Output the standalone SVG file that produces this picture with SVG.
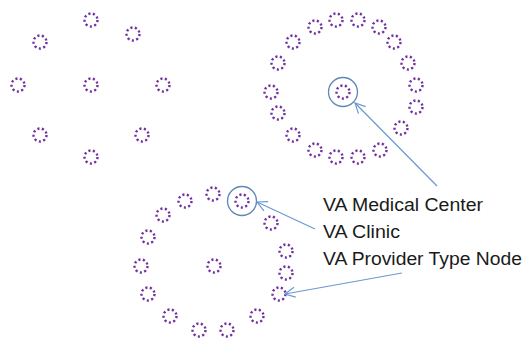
<svg xmlns="http://www.w3.org/2000/svg" xmlns:xlink="http://www.w3.org/1999/xlink" width="526" height="340" viewBox="0 0 526 340">
<style>
.nd{fill:none;stroke:#7030A0;stroke-width:2.4;stroke-dasharray:2.1 2.43}
.hl{fill:none;stroke:#5F86B5;stroke-width:1.3}
.cn{fill:none;stroke:#6A98D0;stroke-width:1.2}
.lb{font-family:"Liberation Sans",Arial,sans-serif;font-size:17.5px;fill:#1a1a1a}
</style>
<defs>
<circle id="d" r="6.5" class="nd"/>
<marker id="ah" viewBox="0 0 12 12" refX="11" refY="6" markerWidth="12" markerHeight="12" markerUnits="userSpaceOnUse" orient="auto">
<path d="M1,1 L11,6 L1,11" fill="none" stroke="#6A98D0" stroke-width="1.2"/>
</marker>
</defs>
<rect width="526" height="340" fill="#fff"/>
<g id="cluster1">
<g id="a1"><use xlink:href="#d" x="91" y="20"/></g>
<g id="a2"><use xlink:href="#d" x="40" y="42"/></g>
<g id="a3"><use xlink:href="#d" x="133" y="34"/></g>
<g id="a4"><use xlink:href="#d" x="18" y="85"/></g>
<g id="a5"><use xlink:href="#d" x="91" y="85"/></g>
<g id="a6"><use xlink:href="#d" x="163" y="85"/></g>
<g id="a7"><use xlink:href="#d" x="40" y="135"/></g>
<g id="a8"><use xlink:href="#d" x="142" y="135"/></g>
<g id="a9"><use xlink:href="#d" x="91" y="157"/></g>
</g>
<g id="cluster2">
<g id="b1"><use xlink:href="#d" x="315" y="27"/></g>
<g id="b2"><use xlink:href="#d" x="336" y="20"/></g>
<g id="b3"><use xlink:href="#d" x="358" y="20"/></g>
<g id="b4"><use xlink:href="#d" x="379" y="27"/></g>
<g id="b5"><use xlink:href="#d" x="394" y="42"/></g>
<g id="b6"><use xlink:href="#d" x="293" y="42"/></g>
<g id="b7"><use xlink:href="#d" x="408" y="63"/></g>
<g id="b8"><use xlink:href="#d" x="278" y="63"/></g>
<g id="b9"><use xlink:href="#d" x="416" y="85"/></g>
<g id="b10"><use xlink:href="#d" x="271" y="92"/></g>
<g id="b11"><use xlink:href="#d" x="416" y="107"/></g>
<g id="b12"><use xlink:href="#d" x="278" y="113"/></g>
<g id="b13"><use xlink:href="#d" x="401" y="128"/></g>
<g id="b14"><use xlink:href="#d" x="293" y="135"/></g>
<g id="b15"><use xlink:href="#d" x="380" y="150"/></g>
<g id="b16"><use xlink:href="#d" x="315" y="150"/></g>
<g id="b17"><use xlink:href="#d" x="336" y="157"/></g>
<g id="b18"><use xlink:href="#d" x="358" y="157"/></g>
<g id="b0"><use xlink:href="#d" x="343" y="92"/><circle cx="343" cy="92" r="14.5" class="hl"/></g>
</g>
<g id="cluster3">
<g id="c1"><use xlink:href="#d" x="213" y="194"/></g>
<g id="c2"><use xlink:href="#d" x="242" y="201"/><circle cx="242" cy="201" r="14.5" class="hl"/></g>
<g id="c3"><use xlink:href="#d" x="185" y="201"/></g>
<g id="c4"><use xlink:href="#d" x="271" y="223"/></g>
<g id="c5"><use xlink:href="#d" x="163" y="215"/></g>
<g id="c6"><use xlink:href="#d" x="148" y="237"/></g>
<g id="c7"><use xlink:href="#d" x="286" y="251"/></g>
<g id="c8"><use xlink:href="#d" x="141" y="266"/></g>
<g id="c9"><use xlink:href="#d" x="214" y="266"/></g>
<g id="c10"><use xlink:href="#d" x="286" y="273"/></g>
<g id="c11"><use xlink:href="#d" x="148" y="294"/></g>
<g id="c12"><use xlink:href="#d" x="279" y="294"/></g>
<g id="c13"><use xlink:href="#d" x="170" y="316"/></g>
<g id="c14"><use xlink:href="#d" x="257" y="316"/></g>
<g id="c15"><use xlink:href="#d" x="199" y="330"/></g>
<g id="c16"><use xlink:href="#d" x="227" y="330"/></g>
</g>
<g id="connectors">
<line x1="437" y1="186" x2="355" y2="103" class="cn" marker-end="url(#ah)"/>
<line x1="315" y1="229" x2="257" y2="202" class="cn" marker-end="url(#ah)"/>
<line x1="402" y1="273" x2="285" y2="294" class="cn" marker-end="url(#ah)"/>
</g>
<g id="labels">
<text class="lb" x="323" y="211" textLength="160" lengthAdjust="spacingAndGlyphs">VA Medical Center</text>
<text class="lb" x="323" y="238" textLength="77" lengthAdjust="spacingAndGlyphs">VA Clinic</text>
<text class="lb" x="323" y="265" textLength="199" lengthAdjust="spacingAndGlyphs">VA Provider Type Node</text>
</g>
</svg>
